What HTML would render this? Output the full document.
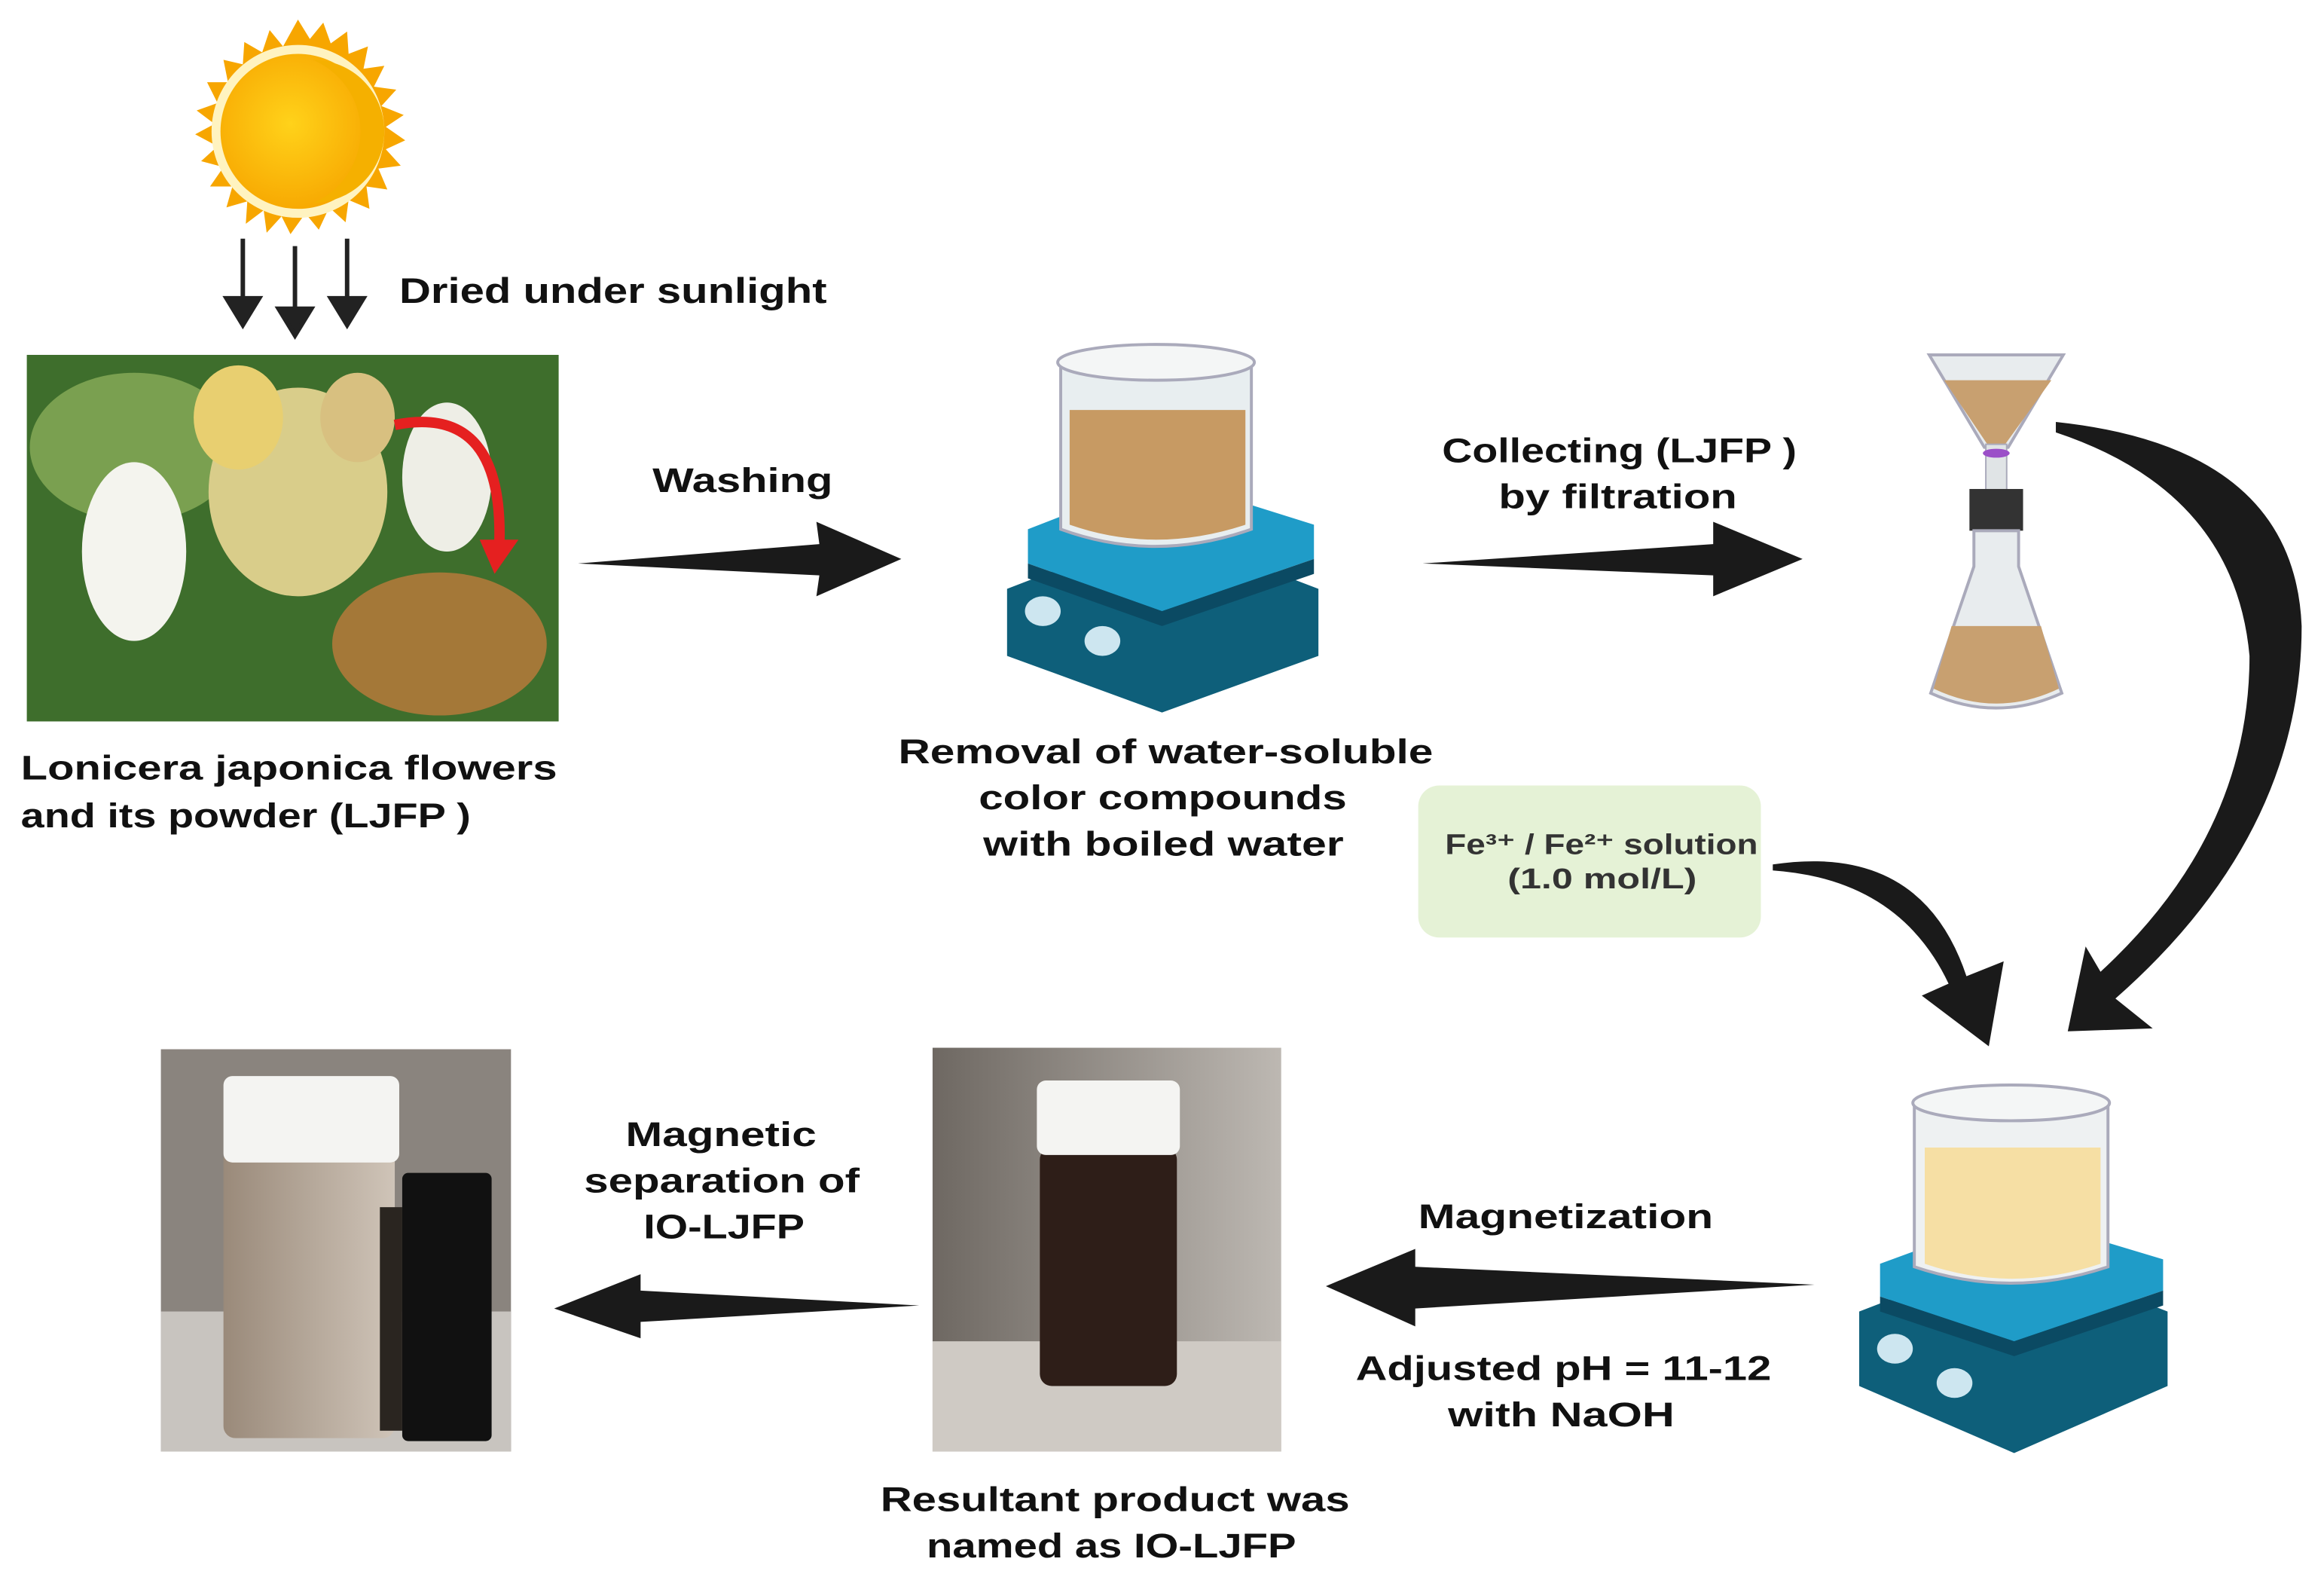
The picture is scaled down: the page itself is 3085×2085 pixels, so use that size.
<!DOCTYPE html>
<html><head><meta charset="utf-8"><style>
html,body{margin:0;padding:0;background:#fff}
svg{display:block}
text{font-family:"Liberation Sans",sans-serif;font-weight:bold;fill:#111}
</style></head><body>
<svg width="3085" height="2085" viewBox="0 0 1560 1054" xmlns="http://www.w3.org/2000/svg">
<defs>
<radialGradient id="sun" cx="0.45" cy="0.45" r="0.6"><stop offset="0" stop-color="#ffd21a"/><stop offset="1" stop-color="#f7a600"/></radialGradient>
<linearGradient id="vial" x1="0" x2="1"><stop offset="0" stop-color="#9a8a7a"/><stop offset="1" stop-color="#cfc4b8"/></linearGradient>
<linearGradient id="bg2" x1="0" x2="1"><stop offset="0" stop-color="#6e6862"/><stop offset="1" stop-color="#bdb8b2"/></linearGradient>
</defs>
<g transform="translate(200,88)">
<polygon fill="#f7a600" points="0,-75 8,-62 17,-73 22,-59 33,-67 34,-52 47,-57 44,-42 58,-44 51,-30 66,-28 56,-17 71,-11 59,-3 72,6 59,12 69,23 54,25 60,39 46,37 48,52 34,46 32,61 21,51 14,66 5,55 -5,69 -11,57 -21,68 -23,53 -35,62 -34,47 -48,51 -44,37 -59,37 -50,24 -65,20 -54,10 -69,2 -56,-5 -68,-14 -54,-19 -61,-33 -47,-33 -50,-48 -37,-45 -36,-60 -24,-53 -19,-68 -10,-57"/>
<circle r="58" fill="#fff3c0"/>
<circle r="52" fill="url(#sun)"/>
<path d="M10,-48 A48,48 0 0 1 10,48 A52,52 0 0 0 10,-48Z" fill="#f5b000"/>
</g>
<g stroke="#222" stroke-width="3" fill="#222">
<line x1="163" y1="160" x2="163" y2="205"/><polygon points="152,200 174,200 163,218"/>
<line x1="198" y1="165" x2="198" y2="212"/><polygon points="187,207 209,207 198,225"/>
<line x1="233" y1="160" x2="233" y2="205"/><polygon points="222,200 244,200 233,218"/>
</g>
<text x="268" y="203" font-size="24" textLength="287" lengthAdjust="spacingAndGlyphs">Dried under sunlight</text>
<rect x="18" y="238" width="357" height="246" fill="#3e6e2c"/>
<ellipse cx="90" cy="300" rx="70" ry="50" fill="#7aa050"/>
<ellipse cx="200" cy="330" rx="60" ry="70" fill="#d9cd8a"/>
<ellipse cx="90" cy="370" rx="35" ry="60" fill="#f4f4ee"/>
<ellipse cx="300" cy="320" rx="30" ry="50" fill="#eeeee6"/>
<ellipse cx="160" cy="280" rx="30" ry="35" fill="#e8cf70"/>
<ellipse cx="240" cy="280" rx="25" ry="30" fill="#d8c080"/>
<ellipse cx="295" cy="432" rx="72" ry="48" fill="#a47838"/>
<path d="M265,285 Q340,270 335,370" stroke="#e52020" stroke-width="7" fill="none"/>
<polygon points="322,362 348,362 332,385" fill="#e52020"/>
<text x="14" y="523" font-size="23" textLength="360" lengthAdjust="spacingAndGlyphs">Lonicera japonica flowers</text>
<text x="14" y="555" font-size="23" textLength="302" lengthAdjust="spacingAndGlyphs">and its powder (LJFP )</text>
<polygon points="388,378 550,365 548,350 605,375 548,400 550,386" fill="#1a1a1a"/>
<text x="438" y="330" font-size="23" textLength="121" lengthAdjust="spacingAndGlyphs">Washing</text>
<polygon points="955,378 1150,365 1150,350 1210,375 1150,400 1150,386" fill="#1a1a1a"/>
<text x="968" y="310" font-size="23" textLength="238" lengthAdjust="spacingAndGlyphs">Collecting (LJFP )</text>
<text x="1006" y="341" font-size="23" textLength="160" lengthAdjust="spacingAndGlyphs">by filtration</text>
<g>
<polygon points="676,395 780,355 885,395 885,440 780,478 676,440" fill="#0e5f7a"/>
<polygon points="690,355 780,320 882,352 882,375 780,410 690,378" fill="#1f9cc8"/>
<polygon points="690,378 780,410 882,375 882,385 780,420 690,388" fill="#0b4a63"/>
<ellipse cx="700" cy="410" rx="12" ry="10" fill="#cde6f0"/><ellipse cx="740" cy="430" rx="12" ry="10" fill="#cde6f0"/>
<path d="M712,245 L712,355 Q775,378 840,355 L840,245Z" fill="#e8eef0" stroke="#aab" stroke-width="2"/>
<path d="M718,275 L718,352 Q775,372 836,352 L836,275Z" fill="#c79a63"/>
<ellipse cx="776" cy="243" rx="66" ry="12" fill="#f4f6f6" stroke="#aab" stroke-width="2"/>
</g>
<text x="603" y="512" font-size="23" textLength="359" lengthAdjust="spacingAndGlyphs">Removal of water-soluble</text>
<text x="657" y="543" font-size="23" textLength="247" lengthAdjust="spacingAndGlyphs">color compounds</text>
<text x="660" y="574" font-size="23" textLength="242" lengthAdjust="spacingAndGlyphs">with boiled water</text>
<g>
<path d="M1295,238 L1385,238 L1348,300 L1332,300Z" fill="#e8ecee" stroke="#aab" stroke-width="2"/>
<path d="M1305,255 L1377,255 L1346,298 L1334,298Z" fill="#c8a070"/>
<rect x="1333" y="298" width="14" height="32" fill="#e0e4e6" stroke="#aab"/>
<ellipse cx="1340" cy="304" rx="9" ry="3" fill="#9b4fc8"/>
<rect x="1322" y="328" width="36" height="28" fill="#333"/>
<path d="M1325,356 L1325,380 L1296,465 Q1340,485 1384,465 L1355,380 L1355,356Z" fill="#e8ecee" stroke="#aab" stroke-width="2"/>
<path d="M1310,420 L1298,462 Q1340,482 1382,462 L1370,420Z" fill="#c8a070"/>
</g>
<path d="M1380,283 Q1540,300 1545,420 Q1545,560 1420,670 L1445,690 L1388,692 L1400,635 L1410,652 Q1510,560 1510,440 Q1500,330 1380,290Z" fill="#1a1a1a"/>
<path d="M1190,580 Q1290,565 1320,655 L1345,645 L1335,702 L1290,668 L1308,660 Q1275,590 1190,584Z" fill="#1a1a1a"/>
<rect x="952" y="527" width="230" height="102" rx="14" fill="#e5f2d6"/>
<text x="970" y="573" font-size="19" textLength="210" lengthAdjust="spacingAndGlyphs" style="fill:#333">Fe³⁺ / Fe²⁺ solution</text>
<text x="1012" y="596" font-size="19" textLength="127" lengthAdjust="spacingAndGlyphs" style="fill:#333">(1.0 mol/L)</text>
<g>
<polygon points="1248,880 1352,840 1455,880 1455,930 1352,975 1248,930" fill="#0e5f7a"/>
<polygon points="1262,848 1352,815 1452,845 1452,866 1352,900 1262,870" fill="#1f9cc8"/>
<polygon points="1262,870 1352,900 1452,866 1452,876 1352,910 1262,880" fill="#0b4a63"/>
<ellipse cx="1272" cy="905" rx="12" ry="10" fill="#cde6f0"/><ellipse cx="1312" cy="928" rx="12" ry="10" fill="#cde6f0"/>
<path d="M1285,740 L1285,850 Q1350,872 1415,850 L1415,740Z" fill="#eef1f2" stroke="#aab" stroke-width="2"/>
<path d="M1292,770 L1292,848 Q1350,868 1410,848 L1410,770Z" fill="#f6dfa4"/>
<ellipse cx="1350" cy="740" rx="66" ry="12" fill="#f4f6f6" stroke="#aab" stroke-width="2"/>
</g>
<polygon points="1218,862 950,850 950,838 890,863 950,890 950,878" fill="#1a1a1a"/>
<text x="952" y="824" font-size="23" textLength="198" lengthAdjust="spacingAndGlyphs">Magnetization</text>
<text x="910" y="926" font-size="23" textLength="279" lengthAdjust="spacingAndGlyphs">Adjusted pH = 11-12</text>
<text x="972" y="957" font-size="23" textLength="152" lengthAdjust="spacingAndGlyphs">with NaOH</text>
<rect x="626" y="703" width="234" height="271" fill="url(#bg2)"/>
<rect x="626" y="900" width="234" height="74" fill="#cfcac4"/>
<rect x="698" y="770" width="92" height="160" rx="8" fill="#2e1e18"/>
<rect x="696" y="725" width="96" height="50" rx="6" fill="#f4f4f2"/>
<text x="591" y="1014" font-size="23" textLength="315" lengthAdjust="spacingAndGlyphs">Resultant product was</text>
<text x="622" y="1045" font-size="23" textLength="248" lengthAdjust="spacingAndGlyphs">named as IO-LJFP</text>
<polygon points="617,876 430,866 430,855 372,878 430,898 430,887" fill="#1a1a1a"/>
<text x="420" y="769" font-size="23" textLength="128" lengthAdjust="spacingAndGlyphs">Magnetic</text>
<text x="392" y="800" font-size="23" textLength="185" lengthAdjust="spacingAndGlyphs">separation of</text>
<text x="432" y="831" font-size="23" textLength="108" lengthAdjust="spacingAndGlyphs">IO-LJFP</text>
<rect x="108" y="704" width="235" height="270" fill="#8a847e"/>
<rect x="108" y="880" width="235" height="94" fill="#c8c4bf"/>
<rect x="150" y="770" width="115" height="195" rx="8" fill="url(#vial)"/>
<rect x="150" y="722" width="118" height="58" rx="6" fill="#f4f4f2"/>
<rect x="270" y="787" width="60" height="180" rx="4" fill="#111"/>
<rect x="255" y="810" width="15" height="150" fill="#2a2520"/>
</svg>
</body></html>
